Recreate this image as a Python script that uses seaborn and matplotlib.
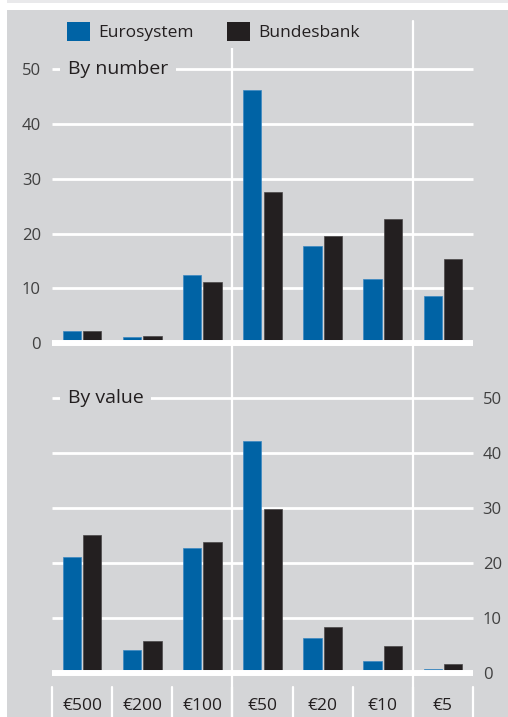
import numpy as np
import pandas as pd
import matplotlib
matplotlib.use("Agg")
import matplotlib.pyplot as plt
import seaborn as sns
from matplotlib.patches import Rectangle, Patch
from matplotlib.lines import Line2D
from matplotlib.transforms import blended_transform_factory

# ---------------- data ----------------
denoms = ["€500", "€200", "€100", "€50", "€20", "€10", "€5"]
series = ["Eurosystem", "Bundesbank"]
number_euro = [2.2, 1.1, 12.4, 46.2, 17.7, 11.7, 8.6]
number_buba = [2.2, 1.3, 11.1, 27.6, 19.5, 22.6, 15.4]
value_euro = [21.1, 4.1, 22.7, 42.3, 6.4, 2.1, 0.7]
value_buba = [25.1, 5.8, 23.9, 29.8, 8.3, 4.9, 1.5]
yticks = [0, 10, 20, 30, 40, 50]
panel_titles = ["By number", "By value"]

BLUE = "#0063a5"
BLACK = "#231f20"
BG = "#d4d5d7"
TXT = "#231f20"
TICK = "#404040"

sns.set_theme(style="white")
plt.rcParams["font.family"] = ["Open Sans", "DejaVu Sans"]

W, H = 508, 717
fig = plt.figure(figsize=(W / 100, H / 100), dpi=100)
fig.patch.set_facecolor("white")
fig.patches.append(Rectangle((7 / W, 0), 1 - 7 / W, 1 - 10 / H, transform=fig.transFigure,
                             facecolor=BG, edgecolor="none", zorder=-10))
fig.patches.append(Rectangle((7 / W, 1 - 3 / H), 1 - 7 / W, 3 / H, transform=fig.transFigure,
                             facecolor="#e9e9eb", edgecolor="none", zorder=-10))

ax1 = fig.add_axes([52 / W, 1 - 343.3 / H, 421 / W, 274.3 / H])
ax2 = fig.add_axes([52 / W, 1 - 672.7 / H, 421 / W, 274.4 / H])


def make_df(a, b):
    return pd.DataFrame({
        "denomination": denoms * 2,
        "series": [series[0]] * len(denoms) + [series[1]] * len(denoms),
        "value": list(a) + list(b),
    })


panels = [(ax1, make_df(number_euro, number_buba), panel_titles[0], "left"),
          (ax2, make_df(value_euro, value_buba), panel_titles[1], "right")]

for ax, df, title, side in panels:
    ax.set_facecolor("none")
    sns.barplot(data=df, x="denomination", y="value", hue="series", order=denoms,
                hue_order=series, palette=[BLUE, BLACK], saturation=1,
                width=0.68, gap=0.1, legend=False, ax=ax, linewidth=0)
    for bar, ec in zip(ax.patches, ["#3b87c2"] * len(denoms) + ["#4a4748"] * len(denoms)):
        bar.set_edgecolor(ec)
        bar.set_linewidth(0.5)
    ax.set_xlim(-0.5, len(denoms) - 0.5)
    ax.set_ylim(0, 50)
    for s in ax.spines.values():
        s.set_visible(False)
    ax.set_xlabel("")
    ax.set_ylabel("")
    ax.hlines(yticks[1:], -0.5, len(denoms) - 0.5, colors="white", linewidth=2,
              zorder=0.5, clip_on=False)
    ax.hlines(0, -0.5, len(denoms) - 0.5, colors="white", linewidth=4.3,
              zorder=3, clip_on=False)
    ax.set_yticks(yticks)
    ax.set_yticklabels([str(t) for t in yticks])
    if side == "left":
        ax.yaxis.tick_left()
        ax.tick_params(axis="y", length=0, pad=8, labelsize=12, labelcolor=TICK)
        ax.tick_params(axis="x", length=0, labelbottom=False)
    else:
        ax.yaxis.tick_right()
        ax.tick_params(axis="y", length=0, pad=7, labelsize=12, labelcolor=TICK,
                       left=False, labelleft=False, right=False, labelright=True)
        ax.tick_params(axis="x", length=0, pad=18.5, labelsize=12.5, labelcolor=TXT)
    ax.text(16 / 421, 50, title, transform=blended_transform_factory(ax.transAxes, ax.transData),
            ha="left", va="center", fontsize=14, color=TXT, zorder=4,
            bbox=dict(facecolor=BG, edgecolor="none", pad=5.5))

# vertical separators
n = len(denoms)
tr = blended_transform_factory(ax1.transData, fig.transFigure)
for xb in [2.5, 5.5]:
    fig.lines.append(Line2D([xb, xb], [1 - 21 / H, 0], transform=tr, color="white",
                            linewidth=1.6, zorder=2))
tr2 = blended_transform_factory(ax2.transData, fig.transFigure)
for xb in np.arange(n + 1) - 0.5:
    fig.lines.append(Line2D([xb, xb], [1 - 687 / H, 0], transform=tr2, color="white",
                            linewidth=1.6, zorder=2))

handles = [Patch(facecolor=BLUE, edgecolor="none"), Patch(facecolor=BLACK, edgecolor="none")]
leg = fig.legend(handles, series, loc="upper left", bbox_to_anchor=(60 / W, 1 - 15 / H),
                 ncol=2, frameon=True, fontsize=12.5, handlelength=1.33, handleheight=1.33,
                 handletextpad=0.45, columnspacing=1.95, borderpad=0.4, borderaxespad=0)
leg.get_frame().set_facecolor(BG)
leg.get_frame().set_edgecolor("none")
leg.get_frame().set_alpha(1)
leg.get_frame().set_boxstyle("square", pad=0)
for t in leg.get_texts():
    t.set_color(TXT)

fig.savefig("out.png", dpi=100)
